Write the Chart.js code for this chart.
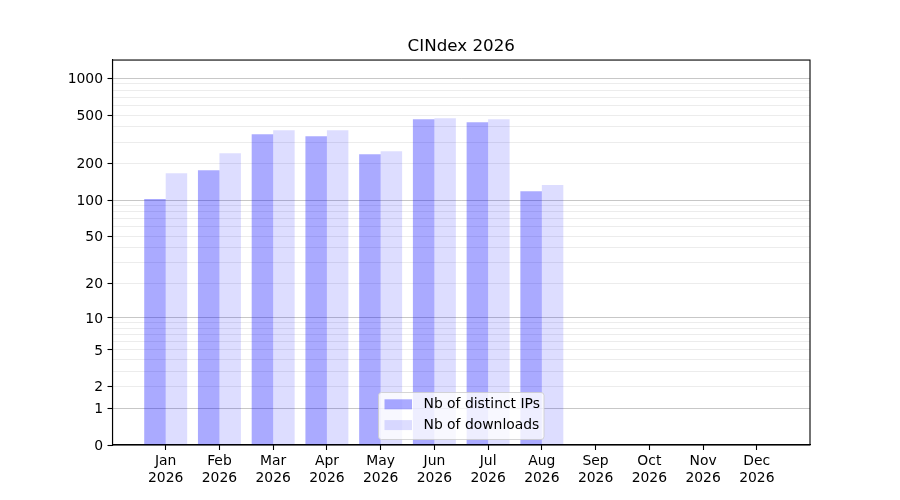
<!DOCTYPE html>
<html><head><meta charset="utf-8">
<script src="https://cdn.jsdelivr.net/npm/chart.js@4.4.1/dist/chart.umd.min.js"></script>
<style>html,body{margin:0;padding:0;background:#fff;overflow:hidden}</style>
</head><body>
<canvas id="c" width="900" height="500"></canvas>
<script>
// ---- data ----
const months = ['Jan','Feb','Mar','Apr','May','Jun','Jul','Aug','Sep','Oct','Nov','Dec'];
const yearLabel = '2026';
const chartTitle = 'CINdex 2026';
const seriesNames = ['Nb of distinct IPs', 'Nb of downloads'];
const distinctIPs = [102, 176, 347, 335, 238, 461, 436, 118, 0, 0, 0, 0];
const downloads   = [166, 243, 375, 375, 252, 470, 461, 133, 0, 0, 0, 0];
const yLabelTicks = [0, 1, 2, 5, 10, 20, 50, 100, 200, 500, 1000];
const yMinorTicks = [3, 4, 6, 7, 8, 9, 30, 40, 60, 70, 80, 90, 300, 400, 600, 700, 800, 900];
const yMajorGrid  = [1, 10, 100, 1000];

// ---- log10(1+x) scale ----
const f = v => Math.log10(1 + v);
const finv = t => Math.pow(10, t) - 1;
class Log1pScale extends Chart.LinearScale {
  buildTicks() {
    const all = yLabelTicks.concat(yMinorTicks).sort((a, b) => a - b);
    return all.filter(v => v >= this.min && v <= this.max).map(v => ({ value: v }));
  }
  configure() {
    super.configure();
    this._tStart = f(this.min);
    this._tRange = f(this.max) - f(this.min);
  }
  getPixelForValue(value) {
    if (value === undefined || value === null || isNaN(value)) return NaN;
    return this.getPixelForDecimal((f(value) - this._tStart) / this._tRange);
  }
  getValueForPixel(pixel) {
    return finv(this._tStart + this.getDecimalForPixel(pixel) * this._tRange);
  }
}
Log1pScale.id = 'log1p';
Log1pScale.defaults = Chart.LinearScale.defaults;
Chart.register(Log1pScale);

const FONT = '"DejaVu Sans", sans-serif';
Chart.defaults.font.family = FONT;
Chart.defaults.color = '#000';

const bgPlugin = {
  id: 'bg',
  beforeDraw(chart) {
    const ctx = chart.ctx;
    ctx.save(); ctx.fillStyle = '#fff'; ctx.fillRect(0, 0, chart.width, chart.height); ctx.restore();
  }
};
const framePlugin = {
  id: 'frame',
  afterDatasetsDraw(chart) {
    const a = chart.chartArea, ctx = chart.ctx;
    ctx.save();
    ctx.strokeStyle = '#000'; ctx.lineWidth = 1.1;
    ctx.strokeRect(a.left, a.top, a.right - a.left, a.bottom - a.top);
    ctx.restore();
  }
};
const legendPlugin = {
  id: 'innerLegend',
  afterDraw(chart) {
    const a = chart.chartArea, ctx = chart.ctx;
    const x = a.left + 266, y = a.bottom - 52.5, w = 165.5, h = 47;
    ctx.save();
    ctx.beginPath();
    ctx.roundRect(x, y, w, h, 3);
    ctx.fillStyle = 'rgba(255,255,255,0.8)';
    ctx.fill();
    ctx.strokeStyle = 'rgba(204,204,204,0.8)';
    ctx.lineWidth = 1;
    ctx.stroke();
    ctx.font = '13.9px ' + FONT;
    ctx.textBaseline = 'middle';
    ctx.textAlign = 'left';
    chart.data.datasets.forEach((ds, i) => {
      const cy = y + 11.8 + i * 20.8;
      ctx.fillStyle = ds.backgroundColor;
      ctx.fillRect(x + 6, cy - 5, 27.5, 10);
      ctx.fillStyle = '#000';
      ctx.fillText(ds.label, x + 45, cy);
    });
    ctx.restore();
  }
};

new Chart(document.getElementById('c'), {
  type: 'bar',
  data: {
    datasets: [
      { label: seriesNames[0], data: distinctIPs.map((v, i) => ({ x: i, y: v })),
        backgroundColor: 'rgba(0,0,255,0.333)', borderWidth: 0 },
      { label: seriesNames[1], data: downloads.map((v, i) => ({ x: i, y: v })),
        backgroundColor: 'rgba(0,0,255,0.135)', borderWidth: 0 }
    ]
  },
  options: {
    responsive: false,
    devicePixelRatio: 1,
    animation: false,
    categoryPercentage: 0.8,
    barPercentage: 1.0,
    layout: { padding: { left: 0, right: 90, top: 0, bottom: 0 } },
    plugins: {
      legend: { display: false },
      tooltip: { enabled: false },
      title: {
        display: true, text: chartTitle, fullSize: false,
        font: { size: 16.7, weight: 'normal', family: FONT },
        color: '#000',
        padding: { top: 36.5, bottom: 3.5 }
      }
    },
    scales: {
      x: {
        type: 'linear',
        offset: false,
        min: -0.99, max: 11.99,
        afterBuildTicks: s => { s.ticks = months.map((m, i) => ({ value: i })); },
        afterFit: s => { s.height = 55; },
        grid: { offset: false, drawOnChartArea: false, drawTicks: true, tickLength: 5, tickColor: '#000', tickWidth: 1.1 },
        border: { display: true, color: '#000', width: 1.1 },
        ticks: {
          autoSkip: false, maxRotation: 0, minRotation: 0, padding: 3,
          font: { size: 13.9, family: FONT }, color: '#000',
          callback: v => [months[v], yearLabel]
        }
      },
      y: {
        type: 'log1p',
        min: 0, max: 1410,
        afterFit: s => { s.width = 112.5; },
        grid: {
          drawOnChartArea: true, drawTicks: true, tickLength: 5, lineWidth: 1,
          color: c => yMajorGrid.includes(c.tick.value) ? 'rgba(0,0,0,0.22)' : 'rgba(0,0,0,0.075)',
          tickColor: c => yLabelTicks.includes(c.tick.value) ? '#000' : 'rgba(0,0,0,0)',
          tickWidth: 1.1
        },
        border: { display: true, color: '#000', width: 1.1 },
        ticks: {
          autoSkip: false, padding: 4.5, labelOffset: 1.2,
          font: { size: 13.9, family: FONT }, color: '#000',
          callback: v => yLabelTicks.includes(v) ? String(v) : ''
        }
      }
    }
  },
  plugins: [bgPlugin, framePlugin, legendPlugin]
});
</script>
</body></html>
